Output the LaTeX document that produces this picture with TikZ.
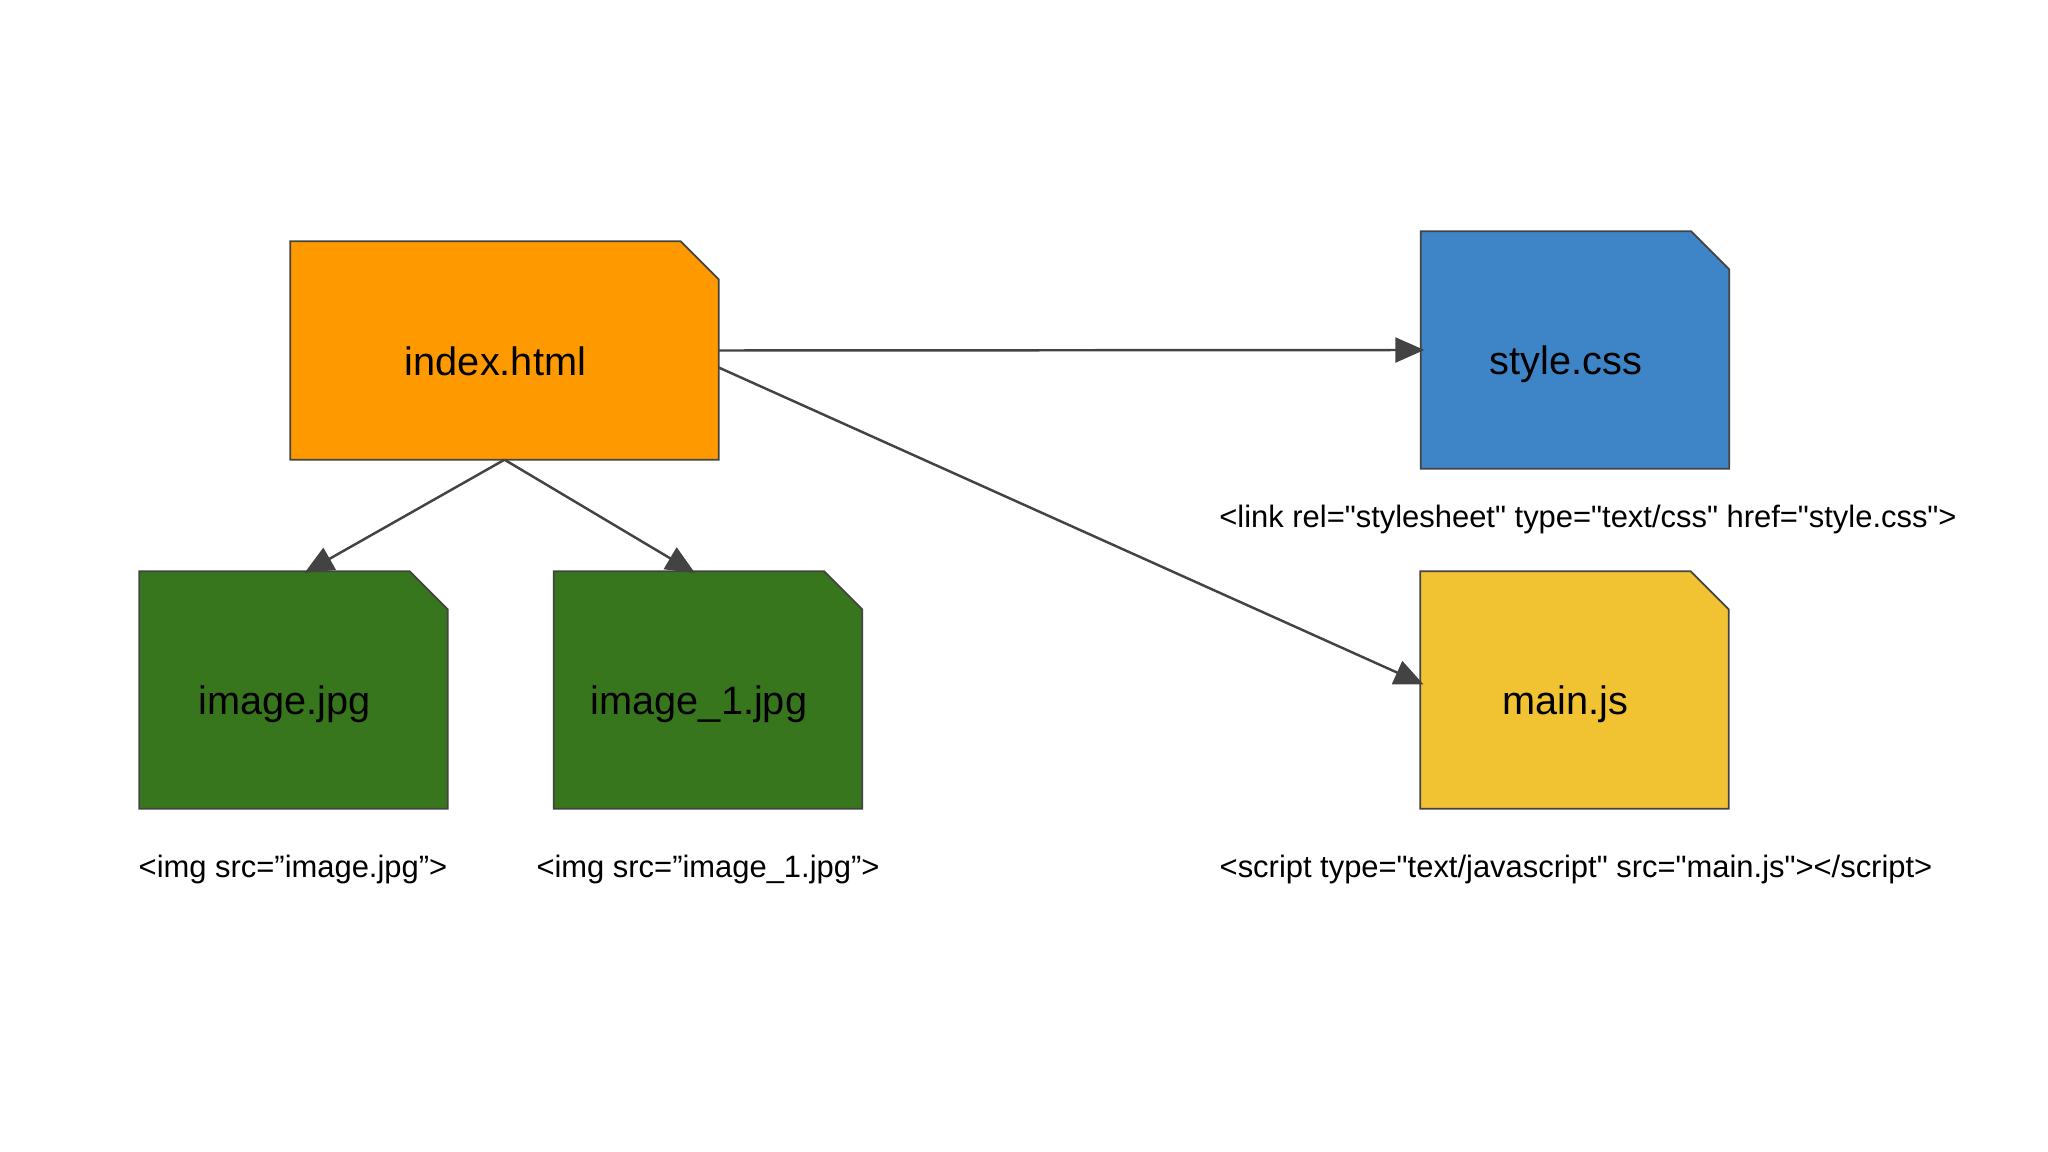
\documentclass[tikz,border=0pt]{standalone}
\usepackage{fontspec}
\setmainfont{Liberation Sans}[Ligatures=TeXOff]
\usetikzlibrary{positioning}
\usetikzlibrary{arrows.meta,backgrounds}

\definecolor{htmlorange}{HTML}{FF9900}
\definecolor{cssblue}{HTML}{3D85C6}
\definecolor{imggreen}{HTML}{38761D}
\definecolor{jsyellow}{HTML}{F1C232}
\definecolor{edgegray}{HTML}{434343}

\tikzset{
  file/.style={rectangle, inner sep=0pt,
    minimum width=3.07cm, minimum height=2.36cm,
    text height=14pt, text depth=0pt,
    execute at end node={\hspace{0.18cm}},
    font=\fontsize{11.3}{13}\selectfont},
  fileedge/.style={draw=edgegray, line width=0.5pt, line join=miter},
  tag/.style={inner sep=0pt, font=\fontsize{8.8}{10}\selectfont},
  link/.style={draw=edgegray, line width=0.7pt,
    -{Triangle[length=0.29cm,width=0.25cm]}, shorten >=-1pt}
}

\begin{document}
\begin{tikzpicture}
\useasboundingbox (0,0) rectangle (20.48,-11.52);

\node[file, minimum width=4.27cm, minimum height=2.17cm](index) at (5.045,-3.505){index.html};
\node[file](css) at (15.75,-3.50){style.css};
\node[file](js) at (15.745,-6.90){main.js};
\node[file](img) at (2.935,-6.90){image.jpg};
\node[file](imgone) at (7.08,-6.90){image\_1.jpg};

% dog-eared file outlines behind the names
\begin{scope}[on background layer]
\foreach \n/\c in {index/htmlorange, css/cssblue, js/jsyellow, img/imggreen, imgone/imggreen}
  \draw[fileedge, fill=\c] (\n.south west) -- (\n.north west)
    -- ([xshift=-0.38cm]\n.north east) -- ([yshift=-0.38cm]\n.north east)
    -- (\n.south east) -- cycle;
\end{scope}

\node[tag](linkTag) at (15.88,-5.20){<link rel="stylesheet" type="text/css" href="style.css">};
\node[tag](scriptTag) at (15.76,-8.70){<script type="text/javascript" src="main.js"></script>};
\node[tag](imgTag) at (2.93,-8.70){<img src=”image.jpg”>};
\node[tag](imgoneTag) at (7.08,-8.70){<img src=”image\_1.jpg”>};

\path
(index.south) edge[link] ([xshift=0.14cm]img.north)
(index.south) edge[link] ([xshift=-0.16cm]imgone.north)
(index.east) edge[link] (css.west)
([yshift=-0.17cm]index.east) edge[link] ([yshift=0.07cm]js.west);
\end{tikzpicture}
\end{document}
